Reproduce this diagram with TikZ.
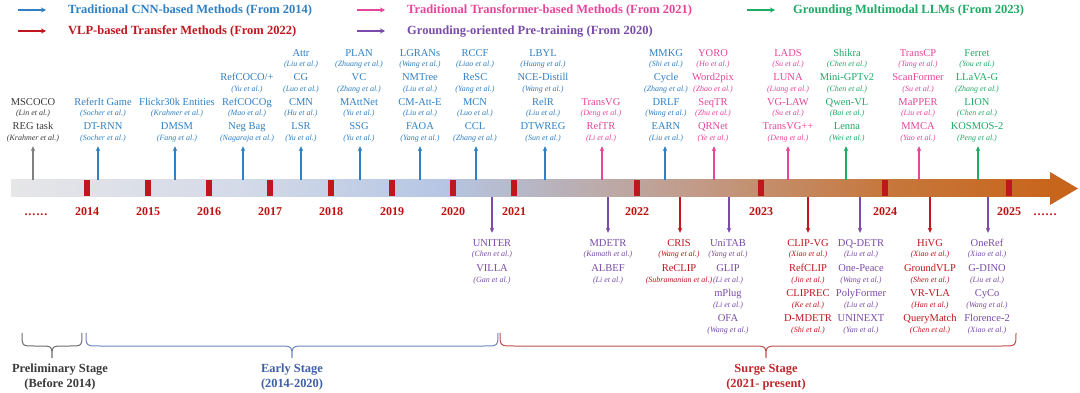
\documentclass[tikz,border=0pt]{standalone}
\usepackage{fontspec}
\setmainfont{Liberation Serif}
\usetikzlibrary{arrows.meta}
\definecolor{cblue}{HTML}{2F80C4}
\definecolor{tpink}{HTML}{E8459A}
\definecolor{lgreen}{HTML}{1FAA66}
\definecolor{vred}{HTML}{C0161E}
\definecolor{gpurple}{HTML}{7A4BA8}
\definecolor{dgray}{HTML}{3A3A3A}
\definecolor{agray}{HTML}{808080}
\definecolor{yred}{HTML}{BE1010}
\definecolor{eblue}{HTML}{3E5FA6}
\definecolor{bblue}{HTML}{6A88BE}
\definecolor{sred}{HTML}{C0282D}
\definecolor{bred}{HTML}{C0504D}
\definecolor{bgray}{HTML}{6E6E6E}
\definecolor{s1}{HTML}{E6E6E8}
\definecolor{s2}{HTML}{D2D9E8}
\definecolor{s3}{HTML}{B6C6E4}
\definecolor{s4}{HTML}{B7B6C4}
\definecolor{s5}{HTML}{C29A86}
\definecolor{s6}{HTML}{C6783E}
\definecolor{s7}{HTML}{C8651C}
\newcommand\ent[6]{%
  \node[nm,text=#4] (#1n) at (#2,#3) {#5};
  \node[au,text=#4] (#1a) at (#2,#3+10.5) {#6};}
\begin{document}
\begin{tikzpicture}[x=1pt,y=-1pt,
 nm/.style={anchor=base, inner sep=0pt, font=\fontsize{10.5}{12}\selectfont, text height=7.5pt, text depth=2pt},
 au/.style={anchor=base, inner sep=0pt, font=\fontsize{8}{9}\selectfont\itshape, text height=6pt, text depth=2pt},
 uarr/.style={line width=1.5pt, -{Stealth[length=5pt,width=4.5pt]}, shorten >=3.5pt},
 darr/.style={line width=1.5pt, -{Stealth[length=5pt,width=4.5pt]}, shorten >=6pt},
 larr/.style={line width=1.6pt, -{Stealth[length=5pt,width=5pt]}},
 leg/.style={anchor=base west, inner sep=0pt, font=\fontsize{12.5}{14}\selectfont\bfseries},
 yr/.style={anchor=base, inner sep=0pt, font=\fontsize{12}{14}\selectfont\bfseries, text=yred},
 stg/.style={anchor=base, inner sep=0pt, font=\fontsize{12.4}{15}\selectfont\bfseries},
 brc/.style={line width=1pt},
 tick/.style={fill=vred},
]
\useasboundingbox (0,0) rectangle (1080,393);
\fill[white] (0,0) rectangle (1080,393);

% ---------- legend ----------
\coordinate (la1) at (18,10); \coordinate (lb1) at (46,10);
\coordinate (la2) at (357,10); \coordinate (lb2) at (385,10);
\coordinate (la3) at (747,10); \coordinate (lb3) at (775,10);
\coordinate (la4) at (18,31); \coordinate (lb4) at (46,31);
\coordinate (la5) at (357,31); \coordinate (lb5) at (385,31);
\draw[larr,cblue] (la1) -- (lb1);
\draw[larr,tpink] (la2) -- (lb2);
\draw[larr,lgreen] (la3) -- (lb3);
\draw[larr,vred] (la4) -- (lb4);
\draw[larr,gpurple] (la5) -- (lb5);
\node[leg,text=cblue] (lt1) at (68,14) {Traditional CNN-based Methods (From 2014)};
\node[leg,text=tpink] (lt2) at (407,14) {Traditional Transformer-based Methods (From 2021)};
\node[leg,text=lgreen] (lt3) at (793,14) {Grounding Multimodal LLMs (From 2023)};
\node[leg,text=vred] (lt4) at (68,35) {VLP-based Transfer Methods (From 2022)};
\node[leg,text=gpurple] (lt5) at (407,35) {Grounding-oriented Pre-training (From 2020)};

% ---------- timeline bar ----------
\shade[left color=s1,right color=s2] (11,180) rectangle (250.5,197);
\shade[left color=s2,right color=s3] (250,180) rectangle (440.5,197);
\shade[left color=s3,right color=s4] (440,180) rectangle (530.5,197);
\shade[left color=s4,right color=s5] (530,180) rectangle (700.5,197);
\shade[left color=s5,right color=s6] (700,180) rectangle (880.5,197);
\shade[left color=s6,right color=s7] (880,180) rectangle (1052,197);
\fill[s7] (1050,172) -- (1078,188.5) -- (1050,205) -- cycle;

% year ticks and labels
\foreach \x/\y in {87/2014,148/2015,209/2016,270/2017,331/2018,392/2019,453/2020,514/2021,637/2022,761/2023,885/2024,1009/2025}{
  \fill[tick] (\x-3,180.5) rectangle (\x+3,196.5);
  \node[yr] (y\y) at (\x,215) {\y};
}
\node[yr] (dotl) at (36,215) {.\kern1pt.\kern1pt.\kern1pt.\kern1pt.\kern1pt.};
\node[yr] (dotr) at (1045,215) {.\kern1pt.\kern1pt.\kern1pt.\kern1pt.\kern1pt.};

% ---------- upper columns ----------
% column 1 (gray)
\ent{a1r3}{33}{105.5}{dgray}{MSCOCO}{(Lin et al.)}
\ent{a1r4}{33}{130}{dgray}{REG task}{(Krahmer et al.)}
% column 2
\ent{a2r3}{103}{105.5}{cblue}{ReferIt Game}{(Socher et al.)}
\ent{a2r4}{103}{130}{cblue}{DT-RNN}{(Socher et al.)}
% column 3
\ent{a3r3}{177}{105.5}{cblue}{Flickr30k Entities}{(Krahmer et al.)}
\ent{a3r4}{177}{130}{cblue}{DMSM}{(Fang et al.)}
% column 4
\ent{a4r2}{247}{81}{cblue}{RefCOCO/+}{(Yu et al.)}
\ent{a4r3}{247}{105.5}{cblue}{RefCOCOg}{(Mao et al.)}
\ent{a4r4}{247}{130}{cblue}{Neg Bag}{(Nagaraja et al.)}
% column 5
\ent{a5r1}{301}{56.5}{cblue}{Attr}{(Liu et al.)}
\ent{a5r2}{301}{81}{cblue}{CG}{(Luo et al.)}
\ent{a5r3}{301}{105.5}{cblue}{CMN}{(Hu et al.)}
\ent{a5r4}{301}{130}{cblue}{LSR}{(Yu et al.)}
% column 6
\ent{a6r1}{359}{56.5}{cblue}{PLAN}{(Zhuang et al.)}
\ent{a6r2}{359}{81}{cblue}{VC}{(Zhang et al.)}
\ent{a6r3}{359}{105.5}{cblue}{MAttNet}{(Yu et al.)}
\ent{a6r4}{359}{130}{cblue}{SSG}{(Yu et al.)}
% column 7
\ent{a7r1}{420}{56.5}{cblue}{LGRANs}{(Wang et al.)}
\ent{a7r2}{420}{81}{cblue}{NMTree}{(Liu et al.)}
\ent{a7r3}{420}{105.5}{cblue}{CM-Att-E}{(Liu et al.)}
\ent{a7r4}{420}{130}{cblue}{FAOA}{(Yang et al.)}
% column 8
\ent{a8r1}{475}{56.5}{cblue}{RCCF}{(Liao et al.)}
\ent{a8r2}{475}{81}{cblue}{ReSC}{(Yang et al.)}
\ent{a8r3}{475}{105.5}{cblue}{MCN}{(Luo et al.)}
\ent{a8r4}{475}{130}{cblue}{CCL}{(Zhang et al.)}
% column 9
\ent{a9r1}{543}{56.5}{cblue}{LBYL}{(Huang et al.)}
\ent{a9r2}{543}{81}{cblue}{NCE-Distill}{(Wang et al.)}
\ent{a9r3}{543}{105.5}{cblue}{RelR}{(Liu et al.)}
\ent{a9r4}{543}{130}{cblue}{DTWREG}{(Sun et al.)}
% column 10
\ent{b1r3}{601}{105.5}{tpink}{TransVG}{(Deng et al.)}
\ent{b1r4}{601}{130}{tpink}{RefTR}{(Li et al.)}
% column 11
\ent{b2r1}{666}{56.5}{cblue}{MMKG}{(Shi et al.)}
\ent{b2r2}{666}{81}{cblue}{Cycle}{(Zhang et al.)}
\ent{b2r3}{666}{105.5}{cblue}{DRLF}{(Wang et al.)}
\ent{b2r4}{666}{130}{cblue}{EARN}{(Liu et al.)}
% column 12
\ent{b3r1}{713}{56.5}{tpink}{YORO}{(Ho et al.)}
\ent{b3r2}{713}{81}{tpink}{Word2pix}{(Zhao et al.)}
\ent{b3r3}{713}{105.5}{tpink}{SeqTR}{(Zhu et al.)}
\ent{b3r4}{713}{130}{tpink}{QRNet}{(Ye et al.)}
% column 13
\ent{b4r1}{788}{56.5}{tpink}{LADS}{(Su et al.)}
\ent{b4r2}{788}{81}{tpink}{LUNA}{(Liang et al.)}
\ent{b4r3}{788}{105.5}{tpink}{VG-LAW}{(Su et al.)}
\ent{b4r4}{788}{130}{tpink}{TransVG++}{(Deng et al.)}
% column 14
\ent{b5r1}{847}{56.5}{lgreen}{Shikra}{(Chen et al.)}
\ent{b5r2}{847}{81}{lgreen}{Mini-GPTv2}{(Chen et al.)}
\ent{b5r3}{847}{105.5}{lgreen}{Qwen-VL}{(Bai et al.)}
\ent{b5r4}{847}{130}{lgreen}{Lenna}{(Wei et al.)}
% column 15
\ent{b6r1}{918}{56.5}{tpink}{TransCP}{(Tang et al.)}
\ent{b6r2}{918}{81}{tpink}{ScanFormer}{(Su et al.)}
\ent{b6r3}{918}{105.5}{tpink}{MaPPER}{(Liu et al.)}
\ent{b6r4}{918}{130}{tpink}{MMCA}{(Yao et al.)}
% column 16
\ent{b7r1}{977}{56.5}{lgreen}{Ferret}{(You et al.)}
\ent{b7r2}{977}{81}{lgreen}{LLaVA-G}{(Zhang et al.)}
\ent{b7r3}{977}{105.5}{lgreen}{LION}{(Chen et al.)}
\ent{b7r4}{977}{130}{lgreen}{KOSMOS-2}{(Peng et al.)}

% up arrows
\foreach \c/\x/\col in {a1/33/agray,a2/98/cblue,a3/175/cblue,a4/243/cblue,a5/301/cblue,a6/360/cblue,a7/420/cblue,a8/476/cblue,a9/545/cblue,b1/602/tpink,b2/665/cblue,b3/714/tpink,b4/788/tpink,b5/846/lgreen,b6/919/tpink,b7/978/lgreen}{
  \coordinate (u\c) at (\x,180);
  \draw[uarr,\col] (u\c) -- (u\c |- \c r4a.south);
}

% ---------- lower columns ----------
\ent{d1r1}{492}{246.5}{gpurple}{UNITER}{(Chen et al.)}
\ent{d1r2}{492}{271.5}{gpurple}{VILLA}{(Gan et al.)}
\ent{d2r1}{608}{246.5}{gpurple}{MDETR}{(Kamath et al.)}
\ent{d2r2}{608}{271.5}{gpurple}{ALBEF}{(Li et al.)}
\ent{d3r1}{679}{246.5}{vred}{CRIS}{(Wang et al.)}
\ent{d3r2}{679}{271.5}{vred}{ReCLIP}{(Subramanian et al.)}
\ent{d4r1}{728}{246.5}{gpurple}{UniTAB}{(Yang et al.)}
\ent{d4r2}{728}{271.5}{gpurple}{GLIP}{(Li et al.)}
\ent{d4r3}{728}{296.5}{gpurple}{mPlug}{(Li et al.)}
\ent{d4r4}{728}{321.5}{gpurple}{OFA}{(Wang et al.)}
\ent{d5r1}{808}{246.5}{vred}{CLIP-VG}{(Xiao et al.)}
\ent{d5r2}{808}{271.5}{vred}{RefCLIP}{(Jin et al.)}
\ent{d5r3}{808}{296.5}{vred}{CLIPREC}{(Ke et al.)}
\ent{d5r4}{808}{321.5}{vred}{D-MDETR}{(Shi et al.)}
\ent{d6r1}{861}{246.5}{gpurple}{DQ-DETR}{(Liu et al.)}
\ent{d6r2}{861}{271.5}{gpurple}{One-Peace}{(Wang et al.)}
\ent{d6r3}{861}{296.5}{gpurple}{PolyFormer}{(Liu et al.)}
\ent{d6r4}{861}{321.5}{gpurple}{UNINEXT}{(Yan et al.)}
\ent{d7r1}{930}{246.5}{vred}{HiVG}{(Xiao et al.)}
\ent{d7r2}{930}{271.5}{vred}{GroundVLP}{(Shen et al.)}
\ent{d7r3}{930}{296.5}{vred}{VR-VLA}{(Han et al.)}
\ent{d7r4}{930}{321.5}{vred}{QueryMatch}{(Chen et al.)}
\ent{d8r1}{987}{246.5}{gpurple}{OneRef}{(Xiao et al.)}
\ent{d8r2}{987}{271.5}{gpurple}{G-DINO}{(Liu et al.)}
\ent{d8r3}{987}{296.5}{gpurple}{CyCo}{(Wang et al.)}
\ent{d8r4}{987}{321.5}{gpurple}{Florence-2}{(Xiao et al.)}

% down arrows
\foreach \c/\x/\col in {d1/492/gpurple,d2/608/gpurple,d3/680/vred,d4/729/gpurple,d5/808/vred,d6/860/gpurple,d7/930/vred,d8/988/gpurple}{
  \coordinate (w\c) at (\x,197);
  \draw[darr,\col] (w\c) -- (w\c |- \c r1n.north);
}

% ---------- braces ----------
\draw[brc,bgray] (22,333) .. controls (22,346) and (22,346) .. (34,346) -- (40,346)
  .. controls (52,346) and (52,346) .. (52,358) .. controls (52,346) and (52,346) .. (64,346)
  -- (70,346) .. controls (82,346) and (82,346) .. (82,333);
\draw[brc,bblue] (86,333) .. controls (86,346) and (86,346) .. (100,346) -- (278,346)
  .. controls (292,346) and (292,346) .. (292,358) .. controls (292,346) and (292,346) .. (306,346)
  -- (484,346) .. controls (498,346) and (498,346) .. (498,333);
\draw[brc,bred] (500,333) .. controls (500,346) and (500,346) .. (514,346) -- (752,346)
  .. controls (766,346) and (766,346) .. (766,358) .. controls (766,346) and (766,346) .. (780,346)
  -- (1002,346) .. controls (1016,346) and (1016,346) .. (1016,333);

\node[stg,text=dgray] (st1a) at (60,372) {Preliminary Stage};
\node[stg,text=dgray] (st1b) at (60,387.5) {(Before 2014)};
\node[stg,text=eblue] (st2a) at (292,372) {Early Stage};
\node[stg,text=eblue] (st2b) at (292,387.5) {(2014-2020)};
\node[stg,text=sred] (st3a) at (766,372) {Surge Stage};
\node[stg,text=sred] (st3b) at (766,387.5) {(2021- present)};
\end{tikzpicture}
\end{document}
